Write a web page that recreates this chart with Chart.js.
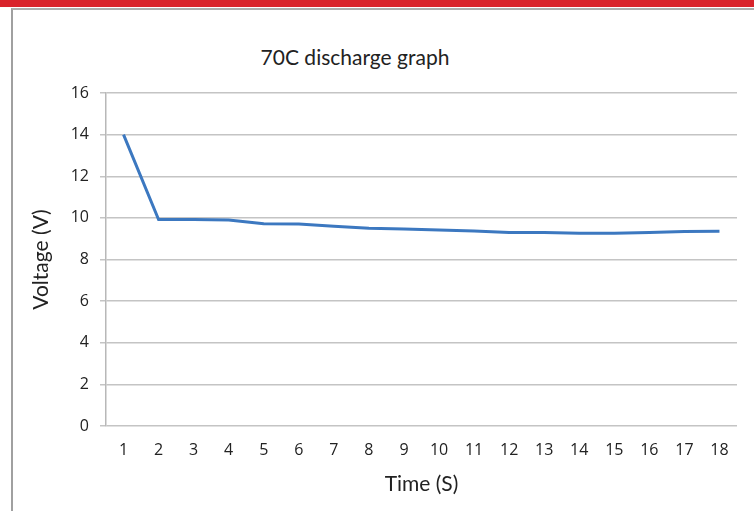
<!DOCTYPE html>
<html lang="en">
<head>
    <meta charset="UTF-8">
    <title>70C discharge graph</title>
    <script src="https://cdn.jsdelivr.net/npm/chart.js"></script>
    <style>
        html, body {
            margin: 0;
            padding: 0;
            background: #fff;
            font-family: Lato, "Open Sans", sans-serif;
        }
        .topbar {
            position: absolute;
            left: 0; top: 0;
            width: 754px; height: 7px;
            background: #d9232b;
        }
        .frame {
            position: absolute;
            left: 11px; top: 8px;
            width: 743px; height: 503px;
            border-left: 2px solid #a0a0a0;
            border-top: 2px solid #adadad;
            box-sizing: border-box;
        }
        .title {
            position: absolute;
            left: 0; top: 44px;
            width: 710px;
            text-align: center;
            font-size: 21px;
            line-height: 25px;
            color: #222;
        }
        .wrap {
            position: absolute;
            left: 0; top: 0;
            width: 754px; height: 511px;
        }
    </style>
</head>
<body>
    <div class="topbar"></div>
    <div class="frame"></div>
    <div class="title">70C discharge graph</div>
    <div class="wrap"><canvas id="dischargeChart"></canvas></div>

    <script>
        // time in seconds and measured voltage
        const timeLabels = ['1', '2', '3', '4', '5', '6', '7', '8', '9', '10', '11', '12', '13', '14', '15', '16', '17', '18'];
        const voltage = [14, 9.92, 9.92, 9.9, 9.72, 9.7, 9.6, 9.5, 9.46, 9.42, 9.37, 9.3, 9.3, 9.26, 9.26, 9.3, 9.35, 9.36];
        const yTicks = [0, 2, 4, 6, 8, 10, 12, 14, 16];

        const tickFont = { family: 'Open Sans', size: 16 };

        const ctx = document.getElementById('dischargeChart').getContext('2d');
        const chart = new Chart(ctx, {
            type: 'line',
            data: {
                labels: timeLabels,
                datasets: [{
                    label: 'Voltage',
                    data: voltage,
                    borderColor: '#3c78c0',
                    borderWidth: 3,
                    pointRadius: 0,
                    tension: 0,
                    fill: false
                }]
            },
            options: {
                responsive: true,
                maintainAspectRatio: false,
                animation: false,
                layout: { padding: { left: 0, right: 17, top: 93, bottom: 0 } },
                plugins: {
                    legend: { display: false },
                    tooltip: { enabled: false }
                },
                scales: {
                    x: {
                        offset: true,
                        afterFit: axis => { axis.height = 85; },
                        grid: { display: false, drawTicks: false },
                        border: { display: false },
                        ticks: { color: '#222', font: tickFont, padding: 15, maxRotation: 0, autoSkip: false },
                        title: { display: true, text: 'Time (S)', color: '#222', font: { family: 'Lato', size: 21 }, padding: { bottom: 14 } }
                    },
                    y: {
                        min: 0,
                        max: 16,
                        afterFit: axis => { axis.width = 106; },
                        afterBuildTicks: axis => { axis.ticks = yTicks.map(v => ({ value: v })); },
                        grid: { color: '#c4c4c4', lineWidth: 1.5, tickLength: 6 },
                        border: { color: '#b8b8b8', width: 1.5 },
                        ticks: { color: '#222', font: tickFont, padding: 11 },
                        title: { display: true, text: 'Voltage (V)', color: '#222', font: { family: 'Lato', size: 21 }, padding: { top: 29 } }
                    }
                }
            }
        });
    </script>
</body>
</html>
